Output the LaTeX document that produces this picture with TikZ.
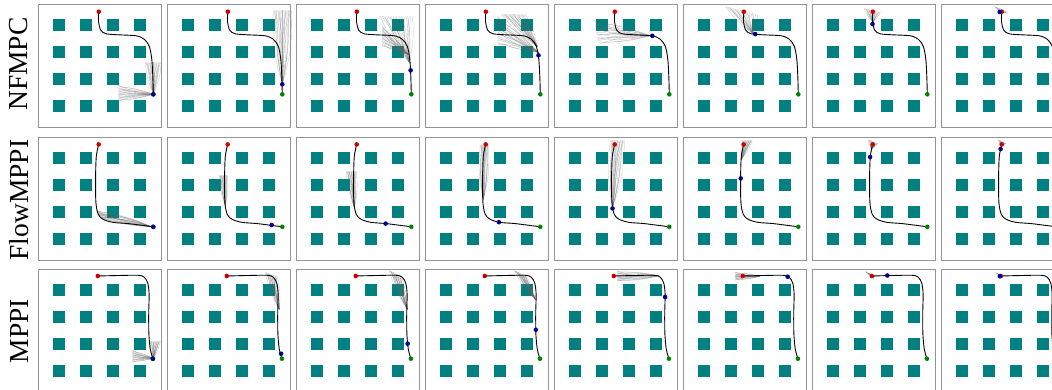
\documentclass[tikz,border=0pt]{standalone}
\usepackage{fontspec}
\setmainfont{Liberation Serif}
\usetikzlibrary{calc}

\definecolor{obstcol}{RGB}{0,128,128}
\definecolor{startcol}{RGB}{205,0,0}
\definecolor{robotcol}{RGB}{0,0,140}
\definecolor{goalcol}{RGB}{0,130,0}

% gray sampled rollouts: from (#1,#2) towards (#3,#4), spread along (#5,#6)
\newcommand{\fan}[6]{%
  \foreach \i [evaluate=\i as \b using 10*sin(97*\i)] in {-10,...,10}
    \draw[sample] (#1,#2) to[bend left=\b] ({#3+\i*#5/10},{#4+\i*#6/10});}

% executed trajectories, one per planner
\newcommand{\trajNF}{\draw[traj] plot[smooth,tension=0.5] coordinates {(60.5,7.4) (60.2,17) (62.5,26) (68,29.5) (80,30.5) (98,31.5) (106,35) (111,42) (113.5,55) (114.5,72) (115,90)};}
\newcommand{\trajFM}{\draw[traj] plot[smooth,tension=0.5] coordinates {(60.4,7) (58,19) (57.3,40) (57.6,65) (60,77) (65,82) (75,85) (90,86.2) (115,89.4)};}
\newcommand{\trajMP}{\draw[traj] plot[smooth,tension=0.5] coordinates {(59.5,6.7) (80,6.2) (100,6) (106,8) (109.5,14) (110.8,25) (110.4,45) (110.6,65) (112,80) (114.6,89.4)};}

% one panel: column, top, trajectory, start, goal, robot, rollouts
\newcommand{\panel}[7]{%
  \begin{scope}[shift={({38.3+129*#1},#2)}]
    \draw[frame] (0,0) rectangle (123,123);
    \foreach \i in {0,...,3}
      \foreach \j in {0,...,3}
        \fill[obst] ({15+27*\i},{15+27*\j}) rectangle ++(12,12);
    #7
    #3
    \fill[goal] (#5) circle (2.3);
    \fill[start] (#4) circle (2.3);
    \fill[robot] (#6) circle (2.3);
  \end{scope}}

\begin{document}
\begin{tikzpicture}[
    x=1pt, y=-1pt,
    frame/.style={draw=black!42, line width=1pt, fill=white},
    obst/.style={fill=obstcol},
    traj/.style={black, line width=0.9pt},
    sample/.style={draw=black!60, line width=0.3pt, opacity=0.4},
    start/.style={fill=startcol},
    robot/.style={fill=robotcol},
    goal/.style={fill=goalcol},
    rowlabel/.style={rotate=90, inner sep=0pt, font=\fontsize{27.5}{30}\selectfont}
]
\useasboundingbox (0,0) rectangle (1052,389);
\clip (0,0) rectangle (1052,389);

\node[rowlabel] (lblNF) at (19,64) {NFMPC};
\node[rowlabel] (lblFM) at (19,200) {FlowMPPI};
\node[rowlabel] (lblMP) at (19,331) {MPPI};

% NFMPC
\panel{0}{4.3}{\trajNF}{60.5,7.4}{115,90}{115,90}{\fan{115}{90}{80}{89}{0}{8}\fan{115}{90}{115}{58}{8}{0}}
\panel{1}{4.3}{\trajNF}{60.5,7.4}{115,90}{115,80}{\fan{115}{80}{115}{6}{9}{0}}
\panel{2}{4.3}{\trajNF}{60.5,7.4}{115,90}{114.3,66}{\fan{113}{58}{100}{12}{16}{0}\fan{112}{50}{86}{32}{0}{10}}
\panel{3}{4.3}{\trajNF}{60.5,7.4}{115,90}{113.2,51}{\fan{113}{48}{72}{26}{0}{14}\fan{112}{42}{88}{10}{12}{0}}
\panel{4}{4.3}{\trajNF}{60.5,7.4}{115,90}{98,31.5}{\fan{96}{31.5}{42}{28}{2}{12}}
\panel{5}{4.3}{\trajNF}{60.5,7.4}{115,90}{72,29.8}{\fan{70}{29.5}{58}{6}{16}{4}}
\panel{6}{4.3}{\trajNF}{60.5,7.4}{115,90}{60.2,19.7}{\fan{60.5}{18}{60}{6}{8}{2}}
\panel{7}{4.3}{\trajNF}{60.5,7.4}{115,90}{58.4,7.7}{\fan{60}{9}{60}{5}{7}{3}}

% FlowMPPI
\panel{0}{137.4}{\trajFM}{60.4,7}{115,89.4}{115,89.4}{\fan{112}{89}{60}{77}{2}{4}}
\panel{1}{137.4}{\trajFM}{60.4,7}{115,89.4}{104.4,87.6}{\fan{58}{68}{56}{38}{4}{0}}
\panel{2}{137.4}{\trajFM}{60.4,7}{115,89.4}{89.3,86.2}{\fan{58}{70}{55}{34}{5}{0}}
\panel{3}{137.4}{\trajFM}{60.4,7}{115,89.4}{73.6,84.8}{\fan{58}{62}{59}{8}{4}{0}}
\panel{4}{137.4}{\trajFM}{60.4,7}{115,89.4}{58.2,71}{\fan{58.3}{70}{63}{3}{7}{0}}
\panel{5}{137.4}{\trajFM}{60.4,7}{115,89.4}{57.4,41}{\fan{58}{22}{64}{3}{5}{0}}
\panel{6}{137.4}{\trajFM}{60.4,7}{115,89.4}{57.8,19.6}{\fan{59}{12}{61}{4}{5}{2}}
\panel{7}{137.4}{\trajFM}{60.4,7}{115,89.4}{59.3,11.7}{\fan{60}{9}{61}{4}{4}{2}}

% MPPI
\panel{0}{269.3}{\trajMP}{59.5,6.7}{114.6,89.4}{114.6,89.4}{\fan{115}{89}{94}{87}{0}{6}\fan{115}{89}{117}{72}{5}{0}}
\panel{1}{269.3}{\trajMP}{59.5,6.7}{114.6,89.4}{113.8,84.4}{\fan{112}{40}{104}{5}{6}{2}}
\panel{2}{269.3}{\trajMP}{59.5,6.7}{114.6,89.4}{111.3,74.4}{\fan{111}{40}{99}{4}{6}{3}}
\panel{3}{269.3}{\trajMP}{59.5,6.7}{114.6,89.4}{110.5,60.4}{\fan{110}{30}{95}{4}{6}{3}}
\panel{4}{269.3}{\trajMP}{59.5,6.7}{114.6,89.4}{110.8,27.7}{\fan{104}{6.5}{63}{7}{0}{5}}
\panel{5}{269.3}{\trajMP}{59.5,6.7}{114.6,89.4}{104.4,7.4}{\fan{76}{7}{52}{7}{0}{4}}
\panel{6}{269.3}{\trajMP}{59.5,6.7}{114.6,89.4}{75,6.2}{\fan{62}{7}{57}{6}{4}{4}}
\panel{7}{269.3}{\trajMP}{59.5,6.7}{114.6,89.4}{58.5,6.9}{\fan{61}{7}{58}{6}{4}{3}}
\end{tikzpicture}
\end{document}
